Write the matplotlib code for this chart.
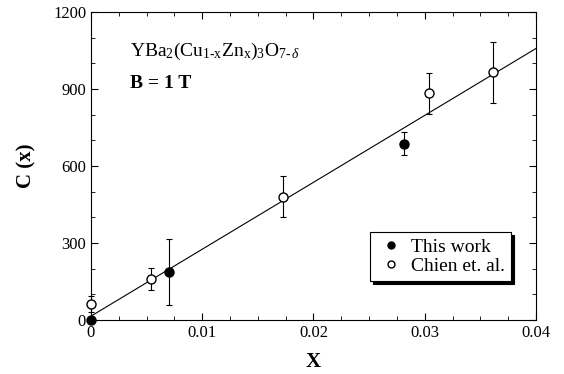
import numpy as np
import matplotlib as mpl
mpl.use('Agg')
import matplotlib.pyplot as plt
from matplotlib.ticker import MultipleLocator

mpl.rcParams.update({'font.family': 'Liberation Serif', 'font.size': 12,
                     'mathtext.fontset': 'custom',
                     'mathtext.rm': 'Liberation Serif',
                     'mathtext.it': 'Liberation Serif:italic',
                     'mathtext.bf': 'Liberation Serif:bold'})

# this work
x_this = [0.0, 0.0070, 0.0281]
y_this = [0, 187, 687]
e_this = [0, 128, 45]

# Chien et. al.
x_chien = [0.0, 0.0054, 0.0173, 0.0304, 0.0361]
y_chien = [62, 160, 480, 883, 965]
e_chien = [30, 42, 80, 80, 120]

# linear fit
x_fit = [0.0, 0.04]
y_fit = [15, 1058]

fig = plt.figure(figsize=(5.64, 3.74), dpi=100)
ax = fig.add_axes([0.1613, 0.1444, 0.7891, 0.8235])

ax.plot(x_fit, y_fit, color='black', lw=0.8, zorder=1)
for x, y, e, fc, lab in [(x_this, y_this, e_this, 'black', 'This work'),
                         (x_chien, y_chien, e_chien, 'white', 'Chien et. al.')]:
    eb = ax.errorbar(x, y, yerr=e, fmt='o', color='black', mfc=fc, ms=6.5,
                     capsize=2.5, elinewidth=0.8, capthick=0.8, label=lab, zorder=3)
    for art in eb.get_children():
        art.set_clip_on(False)

ax.set_xlim(0, 0.04)
ax.set_ylim(0, 1200)
ax.set_xticks([0, 0.01, 0.02, 0.03, 0.04])
ax.set_xticklabels(['0', '0.01', '0.02', '0.03', '0.04'])
ax.xaxis.set_minor_locator(MultipleLocator(0.0025))
ax.yaxis.set_major_locator(MultipleLocator(300))
ax.yaxis.set_minor_locator(MultipleLocator(100))
ax.tick_params(which='both', direction='in', top=True, right=True, labelsize=12)
ax.tick_params(which='major', length=5)
ax.tick_params(which='minor', length=3)

ax.set_xlabel('X', fontsize=15, fontweight='bold', labelpad=8)
ax.set_ylabel('C (x)', fontsize=15, fontweight='bold', labelpad=12)

ax.text(0.0035, 1030, r'YBa$_2$(Cu$_{\mathrm{1\text{-}x}}$Zn$_\mathrm{x}$)$_3$O$_{7\text{-}\,\delta}$',
        fontsize=14)
ax.text(0.0035, 905, 'B = 1 T', fontsize=14, fontweight='bold')

leg = ax.legend(handles=[
    plt.Line2D([], [], marker='o', ls='', color='black', mfc='black', ms=5),
    plt.Line2D([], [], marker='o', ls='', color='black', mfc='white', ms=5)],
    labels=['This work', 'Chien et. al.'], loc='lower right',
    bbox_to_anchor=(0.965, 0.095), fontsize=14, frameon=True, fancybox=False,
    shadow={'color': 'black', 'alpha': 1}, edgecolor='black',
    handletextpad=0.3, handlelength=1.5, borderpad=0.3, labelspacing=0.1)
leg.get_frame().set_linewidth(0.8)

plt.savefig('out.png', dpi=100)
